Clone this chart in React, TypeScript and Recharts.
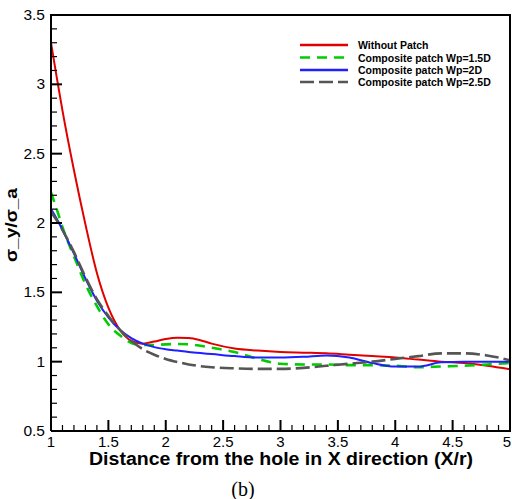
import React from "react";
import { LineChart, Line, XAxis, YAxis } from "recharts";

const xValues = [1, 1.05, 1.1, 1.2, 1.3, 1.4, 1.5, 1.6, 1.7, 1.8, 1.9, 2.0, 2.1, 2.2, 2.3, 2.4, 2.6, 2.8, 3.0, 3.2, 3.4, 3.6, 3.8, 4.0, 4.2, 4.4, 4.6, 4.8, 5.0];
const withoutPatch = [3.3, 3.05, 2.81, 2.38, 1.99, 1.64, 1.39, 1.23, 1.15, 1.13, 1.145, 1.163, 1.172, 1.17, 1.155, 1.13, 1.095, 1.08, 1.07, 1.065, 1.06, 1.05, 1.04, 1.03, 1.015, 1.0, 0.99, 0.97, 0.945];
const wp15 = [2.22, 2.1, 1.97, 1.76, 1.56, 1.4, 1.27, 1.19, 1.135, 1.12, 1.12, 1.125, 1.127, 1.125, 1.115, 1.1, 1.07, 1.02, 0.985, 0.98, 0.98, 0.975, 0.975, 0.97, 0.96, 0.965, 0.97, 0.98, 0.99];
const wp2 = [2.1, 2.03, 1.95, 1.78, 1.6, 1.44, 1.32, 1.23, 1.17, 1.13, 1.105, 1.09, 1.08, 1.07, 1.062, 1.055, 1.04, 1.03, 1.03, 1.035, 1.045, 1.03, 0.99, 0.965, 0.965, 0.995, 1.0, 1.0, 1.0];
const wp25 = [2.08, 2.02, 1.95, 1.79, 1.61, 1.45, 1.33, 1.23, 1.15, 1.09, 1.05, 1.02, 0.998, 0.98, 0.968, 0.96, 0.952, 0.948, 0.948, 0.955, 0.97, 0.985, 1.0, 1.02, 1.04, 1.06, 1.06, 1.045, 1.01];

const seriesNames = ["Without Patch", "Composite patch Wp=1.5D", "Composite patch Wp=2D", "Composite patch Wp=2.5D"];
const seriesColors = ["#e00000", "#00cc00", "#1f1fff", "#555555"];
const seriesDash = ["", "10 7", "", "14 5"];

const xTicks = Array.from({ length: 41 }, (_, i) => Math.round((1 + i * 0.1) * 10) / 10);
const yTicks = Array.from({ length: 31 }, (_, i) => Math.round((0.5 + i * 0.1) * 10) / 10);
const xMajorLabels = ["1", "1.5", "2", "2.5", "3", "3.5", "4", "4.5", "5"];
const yMajorLabels = ["0.5", "1", "1.5", "2", "2.5", "3", "3.5"];

const data = xValues.map((x, i) => ({
  x,
  s0: withoutPatch[i],
  s1: wp15[i],
  s2: wp2[i],
  s3: wp25[i],
}));

const isMajor = (v: number) => Math.abs(v * 2 - Math.round(v * 2)) < 1e-6;
const fmt = (v: number) => String(Math.round(v * 10) / 10);

const XTick = (props: any) => {
  const { x, y, payload } = props;
  const v = payload.value;
  const major = isMajor(v);
  const label = fmt(v);
  const isLast = label === "5";
  return (
    <g>
      <line x1={x} y1={y} x2={x} y2={y - (major ? 11 : 6)} stroke="#000" strokeWidth={major ? 2 : 1.2} />
      {major && xMajorLabels.includes(label) && (
        <text x={isLast ? x - 3 : x} y={y + 16} textAnchor="middle" fontSize={15} fontFamily="Liberation Sans, Arial, sans-serif" fill="#000">
          {label}
        </text>
      )}
    </g>
  );
};

const YTick = (props: any) => {
  const { x, y, payload } = props;
  const v = payload.value;
  const major = isMajor(v);
  const label = fmt(v);
  return (
    <g>
      <line x1={x} y1={y} x2={x + (major ? 11 : 6)} y2={y} stroke="#000" strokeWidth={major ? 2 : 1.2} />
      {major && yMajorLabels.includes(label) && (
        <text x={x - 6} y={y + 5} textAnchor="end" fontSize={15.5} fontFamily="Liberation Sans, Arial, sans-serif" fill="#000">
          {label}
        </text>
      )}
    </g>
  );
};

const legendY = [45, 57.5, 70, 82];

export default function App() {
  return (
    <div style={{ position: "absolute", left: 0, top: 0, width: 512, height: 499, background: "#fff", overflow: "hidden" }}>
      <LineChart width={512} height={499} data={data} margin={{ top: 15, right: 2, bottom: 8, left: 6 }}>
        <XAxis
          dataKey="x"
          type="number"
          domain={[1, 5]}
          ticks={xTicks}
          interval={0}
          height={60}
          tickSize={0}
          tickMargin={0}
          tick={<XTick />}
          axisLine={{ stroke: "#000", strokeWidth: 2 }}
          allowDataOverflow
        />
        <YAxis
          type="number"
          domain={[0.5, 3.5]}
          ticks={yTicks}
          interval={0}
          width={45}
          tickSize={0}
          tickMargin={0}
          tick={<YTick />}
          axisLine={{ stroke: "#000", strokeWidth: 2 }}
          allowDataOverflow
        />
        {["s0", "s1", "s2", "s3"].map((k, i) => (
          <Line
            key={k}
            dataKey={k}
            name={seriesNames[i]}
            type="monotone"
            stroke={seriesColors[i]}
            strokeWidth={i === 0 || i === 2 ? 2 : 2.6}
            strokeDasharray={seriesDash[i] || undefined}
            dot={false}
            isAnimationActive={false}
          />
        ))}
      </LineChart>
      <div style={{ position: "absolute", left: 50, top: 14, width: 459, height: 416, borderTop: "2px solid #000", borderRight: "2px solid #000", pointerEvents: "none" }} />
      <svg style={{ position: "absolute", left: 0, top: 0 }} width={512} height={499}>
        {seriesNames.map((n, i) => (
          <g key={n}>
            <line x1={300} x2={348} y1={legendY[i]} y2={legendY[i]} stroke={seriesColors[i]} strokeWidth={2.5} strokeDasharray={seriesDash[i] || undefined} />
            <text x={358} y={legendY[i] + 4} fontSize={10.5} fontWeight="bold" fontFamily="Liberation Sans, Arial, sans-serif" fill="#000">
              {n}
            </text>
          </g>
        ))}
        <text x={89} y={465} textLength={384} lengthAdjust="spacingAndGlyphs" fontSize={18} fontWeight="bold" fontFamily="Liberation Sans, Arial, sans-serif" fill="#000">
          Distance from the hole in X direction (X/r)
        </text>
        <text x={243} y={496} textAnchor="middle" fontSize={20} fontFamily="Liberation Serif, Times New Roman, serif" fill="#000">
          (b)
        </text>
        <text x={0} y={0} transform="translate(17,262) rotate(-90)" textLength={74} lengthAdjust="spacingAndGlyphs" fontSize={17} fontWeight="bold" fontFamily="Liberation Sans, Arial, sans-serif" fill="#000">
          σ_y/σ_a
        </text>
      </svg>
    </div>
  );
}
